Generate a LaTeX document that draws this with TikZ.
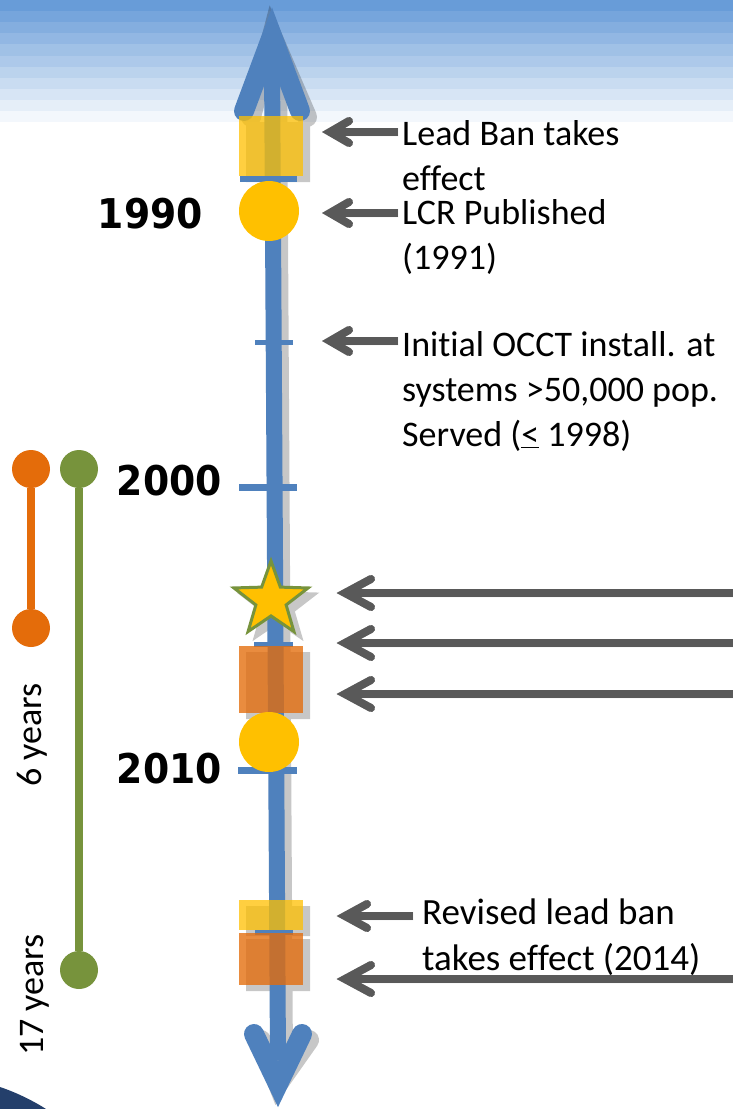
\documentclass[tikz,border=0pt]{standalone}
\usepackage{fontspec}
\setmainfont{Carlito}[Ligatures=CommonOff]
\newfontfamily\yearfont{DejaVu Sans}[FakeStretch=0.92]
\usetikzlibrary{shapes.geometric,calc}
\definecolor{axisblue}{HTML}{4F81BD}
\definecolor{arrgrey}{HTML}{595959}
\definecolor{gold}{HTML}{FFC000}
\definecolor{orng}{HTML}{E46C0A}
\definecolor{olive}{HTML}{77933C}
\definecolor{bannerblue}{RGB}{104,156,216}
\definecolor{navy}{HTML}{243F6B}
\newcommand\mychev[4][arrgrey]{\draw[chevron,#1] ($(#2)+(#3,-#4)$) -- (#2) -- ($(#2)+(#3,#4)$);}
\begin{document}
\begin{tikzpicture}[x=1pt,y=-1pt,
  lbl/.style={font=\fontsize{36}{45}\selectfont, align=left, inner sep=0pt, text=black},
  yearlbl/.style={font=\yearfont\bfseries\fontsize{41}{41}\selectfont, inner sep=0pt, text=black},
  ybox/.style={rectangle, fill=gold, fill opacity=0.75, minimum width=64pt, inner sep=0pt},
  obox/.style={rectangle, fill=orng, fill opacity=0.78, minimum width=64pt, inner sep=0pt},
  gcirc/.style={circle, fill=gold, minimum size=60pt, inner sep=0pt},
  gstar/.style={star, star points=5, star point ratio=2.45, fill=gold, draw=olive, line width=3pt, minimum size=78pt, inner sep=0pt},
  odot/.style={circle, fill=orng, minimum size=38pt, inner sep=0pt},
  gdot/.style={circle, fill=olive, minimum size=38pt, inner sep=0pt},
  garrow/.style={draw=arrgrey, line width=8pt},
  chevron/.style={line width=8pt, line cap=round, line join=miter},
  axhead/.style={line width=20pt, line cap=round, line join=miter},
  tick/.style={draw=axisblue, line width=6pt}
]
\useasboundingbox (0,0) rectangle (733,1109);
\fill[white] (0,0) rectangle (733,1109);
% banner stripes
\foreach \i in {0,...,10}{
  \pgfmathsetmacro\p{100-9.2*\i}
  \fill[bannerblue!\p!white] (0,\i*11.1) rectangle (733,\i*11.1+11.3);
}
% bottom-left swoosh
\fill[navy] (0,1087) .. controls (15,1092) and (32,1100) .. (46,1109) -- (0,1109) -- cycle;

% coordinates of the axis
\coordinate (axtop) at (272,36);
\coordinate (axbot) at (278,1084);

% shadow of axis and markers
\begin{scope}[shift={(7,6)}, transparency group, opacity=0.22]
  \draw[black, line width=16pt] (272,60) -- (278,1060);
  \draw[black, axhead] (244,111) -- (axtop) -- (300,111);
  \draw[black, axhead] (254,1034) -- (axbot) -- (302,1034);
  \fill[black] (239,116) rectangle (303,176);
  \fill[black] (239,646) rectangle (303,713);
  \fill[black] (239,900) rectangle (303,930);
  \fill[black] (239,933) rectangle (303,985);
  \node[gstar, fill=black, draw=black] at (271,600) {};
\end{scope}

% axis
\draw[axisblue, line width=16pt] (272,60) -- (278,1060);
\draw[axisblue, axhead] (244,111) -- (axtop) -- (300,111);
\draw[axisblue, axhead] (254,1034) -- (axbot) -- (302,1034);
% ticks
\draw[tick] (240,179) -- (297,179);
\draw[tick, line width=5pt] (255,342) -- (293,342);
\draw[tick, line width=7pt] (239,487) -- (297,487);
\draw[tick, line width=5pt] (254,644) -- (293,644);
\draw[tick, line width=7pt] (238,770) -- (297,770);
\draw[tick, line width=5pt] (255,932) -- (293,932);

% markers
\node[ybox, minimum height=60pt] (ban) at (271,146) {};
\node[gcirc] (lcr) at (269,211) {};
\node[gstar] (star) at (271,600) {};
\node[obox, minimum height=67pt] (ob1) at (271,679.5) {};
\node[gcirc] (c2010) at (269,742) {};
\node[ybox, minimum height=30pt] (ban2) at (271,915) {};
\node[obox, minimum height=52pt] (ob2) at (271,959) {};

% year labels
\node[yearlbl, anchor=east] (y1990) at (203,214) {1990};
\node[yearlbl, anchor=east] (y2000) at (222,481) {2000};
\node[yearlbl, anchor=east] (y2010) at (222,769) {2010};

% text labels
\node[lbl, anchor=north west] (t1) at (402,113.5) {\strut Lead Ban takes\\effect};
\node[lbl, anchor=north west] (t2) at (402,192.5) {\strut LCR Published\\(1991)};
\node[lbl, anchor=north west] (t3) at (402,324.5) {\strut Initial OCCT install. at\\systems >50,000 pop.\\Served (\underline{<} 1998)};
\node[lbl, anchor=north west, font=\fontsize{37}{46}\selectfont] (t4) at (422,892) {\strut Revised lead ban\\takes effect (2014)};

% arrow targets
\coordinate (a1) at (330,132);
\coordinate (a2) at (330,213);
\coordinate (a3) at (330,341);
\coordinate (a4) at (345,593);
\coordinate (a5) at (345,643);
\coordinate (a6) at (345,694);
\coordinate (a7) at (345,916);
\coordinate (a8) at (345,979);
\coordinate (e4) at (733,593);
\coordinate (e5) at (733,643);
\coordinate (e6) at (733,694);
\coordinate (e8) at (733,979);

% arrow shadows
\begin{scope}[shift={(5,6)}, transparency group, opacity=0.22]
  \draw[black, line width=8pt] ([xshift=-4pt]t1.west |- a1) -- (a1);
  \draw[black, line width=8pt] ([xshift=-4pt]t2.west |- a2) -- (a2);
  \draw[black, line width=8pt] ([xshift=-4pt]t3.west |- a3) -- (a3);
  \draw[black, line width=8pt] (e4) -- (a4);
  \draw[black, line width=8pt] (e5) -- (a5);
  \draw[black, line width=8pt] (e6) -- (a6);
  \draw[black, line width=8pt] ([xshift=-9pt]t4.west |- a7) -- (a7);
  \draw[black, line width=8pt] (e8) -- (a8);
  \mychev[black]{a1}{19}{11}
  \mychev[black]{a2}{19}{11}
  \mychev[black]{a3}{19}{11}
  \mychev[black]{a4}{26}{14}
  \mychev[black]{a5}{26}{14}
  \mychev[black]{a6}{26}{14}
  \mychev[black]{a7}{22}{12}
  \mychev[black]{a8}{26}{14}
\end{scope}

% grey arrows
\draw[garrow] ([xshift=-4pt]t1.west |- a1) -- (a1);
\draw[garrow] ([xshift=-4pt]t2.west |- a2) -- (a2);
\draw[garrow] ([xshift=-4pt]t3.west |- a3) -- (a3);
\draw[garrow] (e4) -- (a4);
\draw[garrow] (e5) -- (a5);
\draw[garrow] (e6) -- (a6);
\draw[garrow] ([xshift=-9pt]t4.west |- a7) -- (a7);
\draw[garrow] (e8) -- (a8);
\mychev{a1}{19}{11}
\mychev{a2}{19}{11}
\mychev{a3}{19}{11}
\mychev{a4}{26}{14}
\mychev{a5}{26}{14}
\mychev{a6}{26}{14}
\mychev{a7}{22}{12}
\mychev{a8}{26}{14}

% left duration bars
\node[odot] (o1) at (31,469) {};
\node[odot] (o2) at (31,628) {};
\node[gdot] (g1) at (79,469) {};
\node[gdot] (g2) at (79,970) {};
\draw[orng, line width=8pt] (o1) -- (o2);
\draw[olive, line width=8pt] (g1) -- (g2);
\node[lbl, rotate=90] (six) at (32,735) {6 years};
\node[lbl, rotate=90] (seventeen) at (35,995) {17 years};
\end{tikzpicture}
\end{document}
